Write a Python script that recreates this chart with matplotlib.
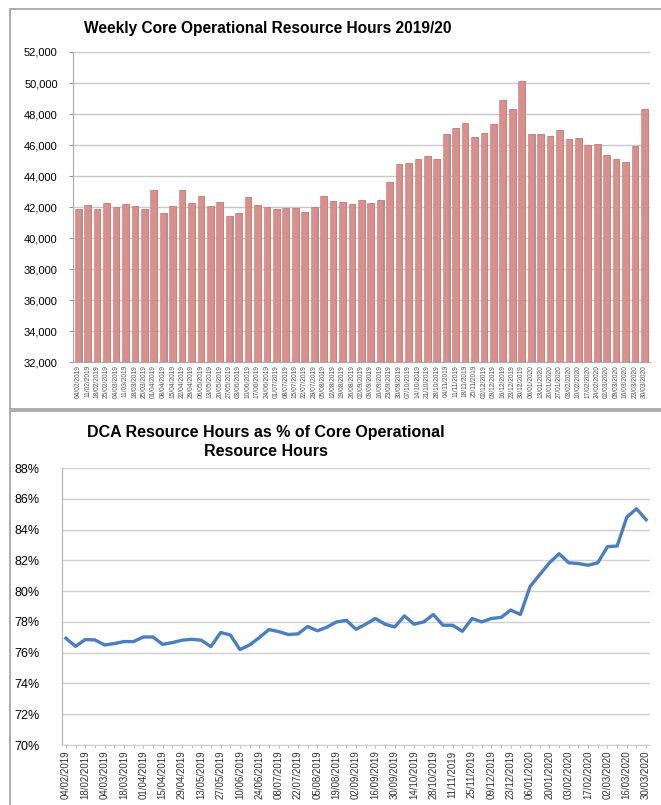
import matplotlib
matplotlib.use('Agg')
from matplotlib import pyplot as plt
from matplotlib.patches import Rectangle
from matplotlib.ticker import FuncFormatter
import pandas as pd

plt.rcParams['font.family'] = ['Liberation Sans', 'DejaVu Sans']

# weekly dates, 04/02/2019 .. 30/03/2020
weeks = pd.date_range('2019-02-04', periods=61, freq='7D')
week_labels = [d.strftime('%d/%m/%Y') for d in weeks]

core_hours = [41850, 42100, 41900, 42260, 42000, 42170, 42060, 41850, 43120, 41630,
              42060, 43080, 42260, 42710, 42060, 42300, 41420, 41610, 42620, 42130,
              42000, 41850, 41960, 41960, 41680, 41980, 42710, 42390, 42340, 42190,
              42430, 42280, 42470, 43610, 44750, 44840, 45080, 45290, 45080, 46730,
              47100, 47440, 46520, 46800, 47380, 48920, 48340, 50100, 46730, 46730,
              46560, 46950, 46390, 46430, 46020, 46040, 45380, 45100, 44880, 45960,
              48340]

dca_pct = [76.94, 76.41, 76.85, 76.83, 76.50, 76.59, 76.72, 76.72, 77.02, 77.02,
           76.54, 76.65, 76.81, 76.87, 76.81, 76.39, 77.31, 77.15, 76.20, 76.50,
           76.98, 77.50, 77.37, 77.18, 77.22, 77.70, 77.42, 77.66, 78.00, 78.10,
           77.52, 77.85, 78.22, 77.85, 77.67, 78.39, 77.85, 78.00, 78.48, 77.78,
           77.78, 77.39, 78.22, 78.00, 78.22, 78.29, 78.77, 78.48, 80.30, 81.07,
           81.84, 82.43, 81.84, 81.79, 81.68, 81.84, 82.89, 82.93, 84.80, 85.35,
           84.64]

W, H = 661, 805
fig = plt.figure(figsize=(W / 100, H / 100), dpi=100)
fig.patch.set_facecolor('white')


def px(l, t, r, b):
    return [l / W, 1 - b / H, (r - l) / W, (b - t) / H]


# chart frames
fig.patches.append(Rectangle((10 / W, 1 - 409 / H), 652 / W, 400 / H, transform=fig.transFigure,
                             fill=False, edgecolor='#a0a0a0', linewidth=1.2))
fig.patches.append(Rectangle((10 / W, 1 - 806 / H), 652 / W, 395 / H, transform=fig.transFigure,
                             fill=False, edgecolor='#a0a0a0', linewidth=1.2))

# ---- top: bars
ax1 = fig.add_axes(px(73, 52, 650, 362))
x = list(range(len(core_hours)))
ax1.bar([i + 0.12 for i in x], core_hours, width=0.7, color='#9a9a9a', zorder=2)
ax1.bar(x, core_hours, width=0.7, color='#d98f8c', edgecolor='#c77b78', linewidth=0.4, zorder=3)
ax1.set_ylim(32000, 52000)
ax1.set_yticks(range(32000, 52001, 2000))
ax1.yaxis.set_major_formatter(FuncFormatter(lambda v, p: f'{int(v):,}'))
ax1.set_xlim(-0.55, 60.6)
ax1.set_xticks(x)
ax1.set_xticklabels(week_labels, rotation=90, fontsize=4.8, color='#555555')
ax1.tick_params(axis='y', labelsize=8, length=3, color='#999999', pad=8)
ax1.tick_params(axis='x', length=0, pad=2)
ax1.grid(axis='y', color='#c8c8c8', linewidth=1, zorder=0)
ax1.set_axisbelow(True)
for s in ['top', 'right']:
    ax1.spines[s].set_visible(False)
ax1.spines['left'].set_color('#a8a8a8')
ax1.spines['bottom'].set_color('#a8a8a8')
fig.text(268 / W, 1 - 28 / H, 'Weekly Core Operational Resource Hours 2019/20',
         ha='center', va='center', fontsize=11.2, fontweight='bold')

# ---- bottom: line
ax2 = fig.add_axes(px(62, 468, 650, 745))
ax2.plot(x, dca_pct, color='#4a7ebf', linewidth=2.4, zorder=3)
ax2.set_ylim(70, 88)
ax2.set_yticks(range(70, 89, 2))
ax2.yaxis.set_major_formatter(FuncFormatter(lambda v, p: f'{int(v)}%'))
ax2.set_xlim(-0.4, 60.4)
ax2.set_xticks(x[::2])
ax2.set_xticklabels(week_labels[::2], rotation=90, fontsize=7, color='#333333')
ax2.set_xticks(x, minor=True)
ax2.tick_params(axis='y', labelsize=9, length=0, pad=16)
ax2.tick_params(axis='x', which='both', length=2, color='#bbbbbb', pad=2)
ax2.grid(axis='y', color='#d0d0d0', linewidth=1, zorder=0)
ax2.set_axisbelow(True)
for s in ['top', 'right']:
    ax2.spines[s].set_visible(False)
ax2.spines['left'].set_color('#b0b0b0')
ax2.spines['bottom'].set_color('#d0d0d0')
fig.text(266 / W, 1 - 442 / H, 'DCA Resource Hours as % of Core Operational\nResource Hours',
         ha='center', va='center', fontsize=11.5, fontweight='bold', linespacing=1.3)

plt.savefig('out.png', dpi=100)
plt.close()
